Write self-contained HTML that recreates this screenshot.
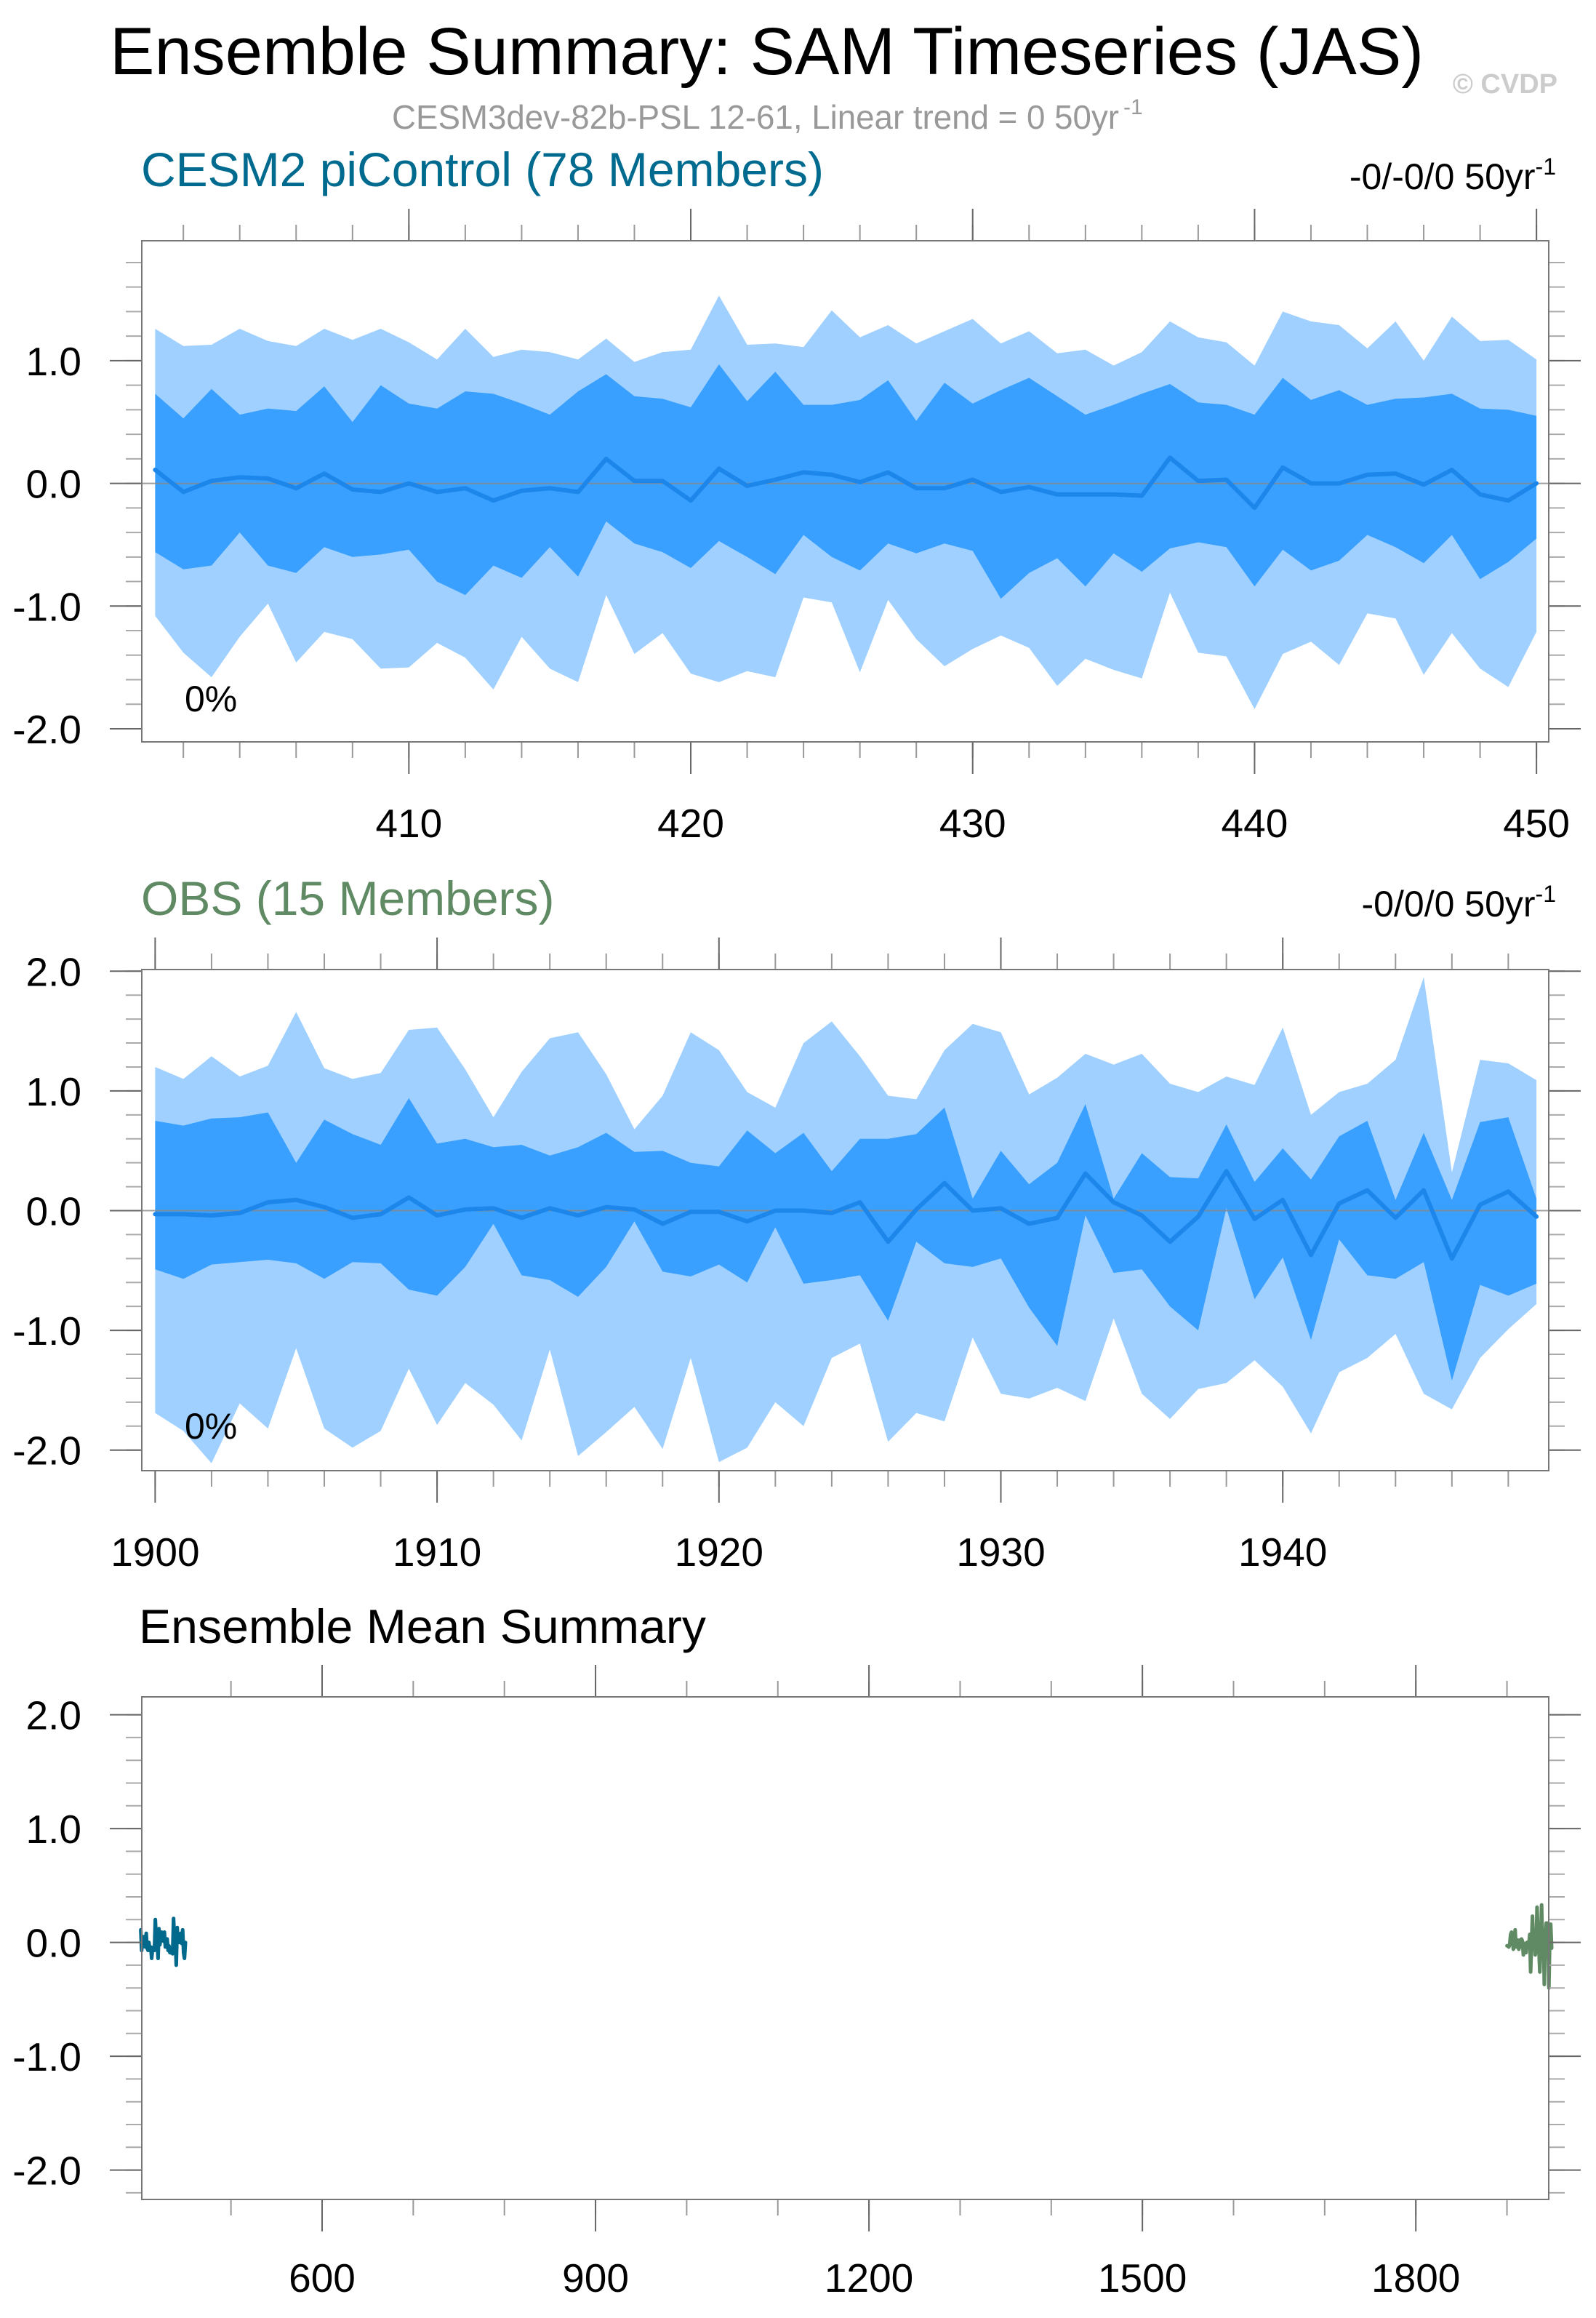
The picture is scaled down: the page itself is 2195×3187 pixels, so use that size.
<!DOCTYPE html>
<html><head><meta charset="utf-8">
<style>
html,body{margin:0;padding:0;background:#fff;}
svg{display:block;font-family:"Liberation Sans",Arial,sans-serif;}
</style></head>
<body>
<svg id="chart" width="2195" height="3187" viewBox="0 0 2195 3187" xmlns="http://www.w3.org/2000/svg">
  <text x="151" y="102" font-size="92" textLength="1807" lengthAdjust="spacingAndGlyphs" fill="#000">Ensemble Summary: SAM Timeseries (JAS)</text>
  <text x="2142" y="128" font-size="38" font-weight="bold" text-anchor="end" fill="#cccccc">© CVDP</text>
  <text x="539" y="177" font-size="46" textLength="1000" lengthAdjust="spacingAndGlyphs" fill="#999999">CESM3dev-82b-PSL 12-61, Linear trend = 0 50yr</text>
  <text x="1545" y="157" font-size="30" fill="#999999">-1</text>

  <text x="194" y="256" font-size="66" fill="#006b8f">CESM2 piControl (78 Members)</text>
  <text x="2140" y="260" font-size="50" text-anchor="end" fill="#000">-0/-0/0 50yr<tspan dy="-20" font-size="32">-1</tspan></text>

  <text x="194" y="1258" font-size="66" fill="#5f8a63">OBS (15 Members)</text>
  <text x="2140" y="1260" font-size="50" text-anchor="end" fill="#000">-0/0/0 50yr<tspan dy="-20" font-size="32">-1</tspan></text>

  <text x="191" y="2259" font-size="66" textLength="780" lengthAdjust="spacingAndGlyphs" fill="#000">Ensemble Mean Summary</text>
  <g id="layer"></g>
</svg>
<script>
// ---- Panel 1: CESM2 piControl, years 401-450 ----
const p1Years = [];
for (let y = 401; y <= 450; y++) p1Years.push(y);
const p1OuterHi = [1.26,1.12,1.13,1.26,1.16,1.12,1.26,1.17,1.26,1.15,1.01,1.26,1.03,1.09,1.07,1.01,1.18,0.99,1.07,1.09,1.53,1.13,1.14,1.11,1.41,1.19,1.29,1.14,1.24,1.34,1.14,1.24,1.06,1.09,0.96,1.07,1.32,1.19,1.15,0.96,1.40,1.32,1.29,1.10,1.32,1.00,1.36,1.16,1.17,1.01];
const p1InnerHi = [0.73,0.53,0.77,0.56,0.61,0.59,0.79,0.50,0.80,0.65,0.61,0.75,0.73,0.65,0.56,0.75,0.89,0.71,0.69,0.62,0.97,0.67,0.91,0.64,0.64,0.68,0.84,0.51,0.82,0.65,0.76,0.86,0.71,0.56,0.64,0.73,0.81,0.66,0.64,0.56,0.86,0.68,0.76,0.64,0.69,0.70,0.73,0.61,0.60,0.55];
const p1Mean = [0.11,-0.07,0.02,0.05,0.04,-0.04,0.08,-0.05,-0.07,0.00,-0.07,-0.04,-0.14,-0.06,-0.04,-0.07,0.20,0.02,0.02,-0.14,0.12,-0.02,0.03,0.09,0.07,0.01,0.09,-0.04,-0.04,0.03,-0.07,-0.03,-0.09,-0.09,-0.09,-0.10,0.21,0.02,0.03,-0.20,0.13,0.00,0.00,0.07,0.08,-0.01,0.11,-0.09,-0.14,0.00];
const p1InnerLo = [-0.56,-0.70,-0.67,-0.40,-0.67,-0.73,-0.52,-0.60,-0.58,-0.54,-0.80,-0.91,-0.67,-0.77,-0.52,-0.76,-0.31,-0.49,-0.56,-0.69,-0.47,-0.60,-0.74,-0.42,-0.60,-0.71,-0.49,-0.57,-0.49,-0.55,-0.94,-0.73,-0.61,-0.84,-0.57,-0.72,-0.53,-0.48,-0.52,-0.84,-0.54,-0.71,-0.63,-0.42,-0.52,-0.65,-0.42,-0.78,-0.64,-0.45];
const p1OuterLo = [-1.08,-1.38,-1.58,-1.25,-0.98,-1.46,-1.21,-1.27,-1.51,-1.50,-1.30,-1.42,-1.68,-1.25,-1.51,-1.62,-0.91,-1.39,-1.22,-1.55,-1.62,-1.53,-1.58,-0.93,-0.97,-1.54,-0.95,-1.27,-1.49,-1.35,-1.24,-1.34,-1.65,-1.43,-1.52,-1.59,-0.89,-1.38,-1.41,-1.84,-1.39,-1.29,-1.48,-1.06,-1.10,-1.56,-1.22,-1.51,-1.66,-1.21];
const p1XTicks = [410,420,430,440,450];
const p1YTicks = [1.0,0.0,-1.0,-2.0];

// ---- Panel 2: OBS, years 1900-1949 ----
const p2Years = [];
for (let y = 1900; y <= 1949; y++) p2Years.push(y);
const p2OuterHi = [1.20,1.10,1.29,1.12,1.21,1.66,1.19,1.10,1.15,1.51,1.53,1.18,0.78,1.16,1.44,1.49,1.14,0.68,0.96,1.49,1.34,0.99,0.86,1.40,1.58,1.29,0.96,0.93,1.34,1.56,1.49,0.97,1.11,1.31,1.22,1.31,1.06,0.99,1.12,1.05,1.53,0.80,0.99,1.06,1.26,1.95,0.32,1.26,1.23,1.09];
const p2InnerHi = [0.75,0.71,0.77,0.78,0.82,0.40,0.76,0.64,0.55,0.94,0.56,0.60,0.53,0.55,0.46,0.53,0.65,0.49,0.50,0.40,0.37,0.67,0.48,0.65,0.33,0.60,0.60,0.64,0.86,0.10,0.50,0.22,0.40,0.89,0.10,0.48,0.28,0.27,0.72,0.24,0.52,0.26,0.62,0.75,0.09,0.65,0.09,0.74,0.78,0.10];
const p2Mean = [-0.03,-0.03,-0.04,-0.02,0.07,0.09,0.03,-0.06,-0.03,0.11,-0.04,0.01,0.02,-0.06,0.02,-0.04,0.03,0.01,-0.11,-0.01,-0.01,-0.09,0.00,0.00,-0.02,0.07,-0.26,0.01,0.23,0.00,0.02,-0.11,-0.06,0.31,0.07,-0.04,-0.26,-0.05,0.33,-0.07,0.09,-0.37,0.06,0.17,-0.06,0.17,-0.40,0.05,0.16,-0.05];
const p2InnerLo = [-0.49,-0.57,-0.45,-0.43,-0.41,-0.44,-0.57,-0.43,-0.44,-0.66,-0.71,-0.47,-0.11,-0.54,-0.58,-0.72,-0.47,-0.09,-0.51,-0.55,-0.45,-0.60,-0.14,-0.61,-0.58,-0.54,-0.92,-0.26,-0.44,-0.47,-0.40,-0.81,-1.13,-0.04,-0.52,-0.49,-0.80,-1.00,0.02,-0.74,-0.39,-1.08,-0.24,-0.54,-0.57,-0.43,-1.42,-0.62,-0.71,-0.61];
const p2OuterLo = [-1.69,-1.84,-2.11,-1.61,-1.82,-1.15,-1.82,-1.98,-1.84,-1.32,-1.79,-1.44,-1.62,-1.92,-1.16,-2.05,-1.85,-1.64,-1.99,-1.23,-2.10,-1.98,-1.60,-1.80,-1.23,-1.11,-1.93,-1.69,-1.76,-1.06,-1.53,-1.57,-1.48,-1.59,-0.90,-1.53,-1.74,-1.49,-1.44,-1.25,-1.47,-1.86,-1.35,-1.23,-1.03,-1.53,-1.66,-1.23,-0.99,-0.78];
const p2XTicks = [1900,1910,1920,1930,1940];
const p2YTicks = [2.0,1.0,0.0,-1.0,-2.0];

// ---- Panel 3: ensemble mean summary ----
const p3XTicks = [600,900,1200,1500,1800];
const p3YTicks = [2.0,1.0,0.0,-1.0,-2.0];

const NS = 'http://www.w3.org/2000/svg';
const layer = document.getElementById('layer');
function mk(tag, attrs, parent) {
  const e = document.createElementNS(NS, tag);
  for (const k in attrs) e.setAttribute(k, attrs[k]);
  (parent || layer).appendChild(e);
  return e;
}

const x1 = v => 213.4 + (v - 401) * 38.77;
const y1 = v => 664.6 - v * 168.7;
const x2 = v => 213.4 + (v - 1900) * 38.77;
const y2 = v => 1664.5 - v * 164.6;
const x3 = v => 443 + (v - 600) * 1.2535;
const y3 = v => 2670.6 - v * 156.5;

function band(xs, hi, lo, xf, yf, color, name, g) {
  let d = '';
  xs.forEach((x, i) => { d += (i ? 'L' : 'M') + xf(x).toFixed(1) + ',' + yf(hi[i]).toFixed(1); });
  for (let i = xs.length - 1; i >= 0; i--) d += 'L' + xf(xs[i]).toFixed(1) + ',' + yf(lo[i]).toFixed(1);
  const p = mk('path', { d: d + 'Z', fill: color }, g);
  
  
}
function line(xs, ys, xf, yf, color, w, name, g) {
  const pts = xs.map((x, i) => xf(x).toFixed(1) + ',' + yf(ys[i]).toFixed(1)).join(' ');
  const p = mk('polyline', { points: pts, fill: 'none', stroke: color, 'stroke-width': w, 'stroke-linejoin': 'round', 'stroke-linecap': 'round' }, g);
  
  
}

function frame(prefix, L, R, T, B, xf, yf, xMajor, xMinor, yMajor, yMinor, xLabelY, xLabels, yLabels) {
  const g = mk('g', {});
  
  
  xMinor.forEach(v => {
    const X = xf(v);
    if (X < L - 1 || X > R + 1) return;
    mk('line', { x1: X, y1: T, x2: X, y2: T - 22, stroke: '#999', 'stroke-width': 2 }, g);
    mk('line', { x1: X, y1: B, x2: X, y2: B + 22, stroke: '#999', 'stroke-width': 2 }, g);
  });
  xMajor.forEach(v => {
    const X = xf(v);
    mk('line', { x1: X, y1: T, x2: X, y2: T - 44, stroke: '#666', 'stroke-width': 2 }, g);
    mk('line', { x1: X, y1: B, x2: X, y2: B + 44, stroke: '#666', 'stroke-width': 2 }, g);
  });
  yMinor.forEach(v => {
    const Y = yf(v);
    if (Y < T - 1 || Y > B + 1) return;
    mk('line', { x1: L, y1: Y, x2: L - 22, y2: Y, stroke: '#aaa', 'stroke-width': 2 }, g);
    mk('line', { x1: R, y1: Y, x2: R + 22, y2: Y, stroke: '#aaa', 'stroke-width': 2 }, g);
  });
  yMajor.forEach(v => {
    const Y = yf(v);
    mk('line', { x1: L, y1: Y, x2: L - 44, y2: Y, stroke: '#666', 'stroke-width': 2 }, g);
    mk('line', { x1: R, y1: Y, x2: R + 44, y2: Y, stroke: '#666', 'stroke-width': 2 }, g);
  });
  mk('rect', { x: L, y: T, width: R - L, height: B - T, fill: 'none', stroke: '#777', 'stroke-width': 2 }, g);
  xLabels.forEach(v => {
    const t = mk('text', { x: xf(v), y: xLabelY, 'font-size': 55, 'text-anchor': 'middle', fill: '#000' }, g);
    
    
    t.textContent = String(v);
  });
  yLabels.forEach(v => {
    const t = mk('text', { x: 112, y: yf(v) + 20, 'font-size': 55, 'text-anchor': 'end', fill: '#000' }, g);
    
    
    t.textContent = v.toFixed(1);
  });
}
function range(a, b, s) { const r = []; for (let v = a; v <= b + 1e-9; v += s) r.push(Math.round(v * 100) / 100); return r; }

// Panel 1
const g1 = mk('g', {});


band(p1Years, p1OuterHi, p1OuterLo, x1, y1, '#9fd0ff', 'panel1-outer-band', g1);
band(p1Years, p1InnerHi, p1InnerLo, x1, y1, '#39a0ff', 'panel1-inner-band', g1);
mk('line', { x1: 195, y1: y1(0), x2: 2130, y2: y1(0), stroke: '#888', 'stroke-width': 2, opacity: 0.8 }, g1);
line(p1Years, p1Mean, x1, y1, '#1d86ea', 6, 'panel1-ensemble-mean', g1);
frame('panel1', 195, 2130, 331, 1020, x1, y1, p1XTicks, range(402, 450, 2), p1YTicks, range(-2.0, 1.8, 0.2), 1151, p1XTicks, p1YTicks);
const pc1 = mk('text', { x: 254, y: 978, 'font-size': 50, fill: '#000' }, g1);


pc1.textContent = '0%';

// Panel 2
const g2 = mk('g', {});


band(p2Years, p2OuterHi, p2OuterLo, x2, y2, '#9fd0ff', 'panel2-outer-band', g2);
band(p2Years, p2InnerHi, p2InnerLo, x2, y2, '#39a0ff', 'panel2-inner-band', g2);
mk('line', { x1: 195, y1: y2(0), x2: 2130, y2: y2(0), stroke: '#888', 'stroke-width': 2, opacity: 0.8 }, g2);
line(p2Years, p2Mean, x2, y2, '#1d86ea', 6, 'panel2-ensemble-mean', g2);
frame('panel2', 195, 2130, 1333, 2022, x2, y2, p2XTicks, range(1900, 1948, 2), p2YTicks, range(-2.2, 2.0, 0.2), 2153, p2XTicks, p2YTicks);
const pc2 = mk('text', { x: 254, y: 1978, 'font-size': 50, fill: '#000' }, g2);


pc2.textContent = '0%';

// Panel 3
const g3 = mk('g', {});


line(p1Years, p1Mean, x3, y3, '#00698c', 5, 'panel3-cesm2-mean-line', g3);
line(p2Years, p2Mean, x3, y3, '#5f8a63', 5, 'panel3-obs-mean-line', g3);
frame('panel3', 195, 2130, 2333, 3024, x3, y3, p3XTicks, range(500, 1900, 100), p3YTicks, range(-2.2, 2.2, 0.2), 3151, p3XTicks, p3YTicks);
</script>
</body></html>
